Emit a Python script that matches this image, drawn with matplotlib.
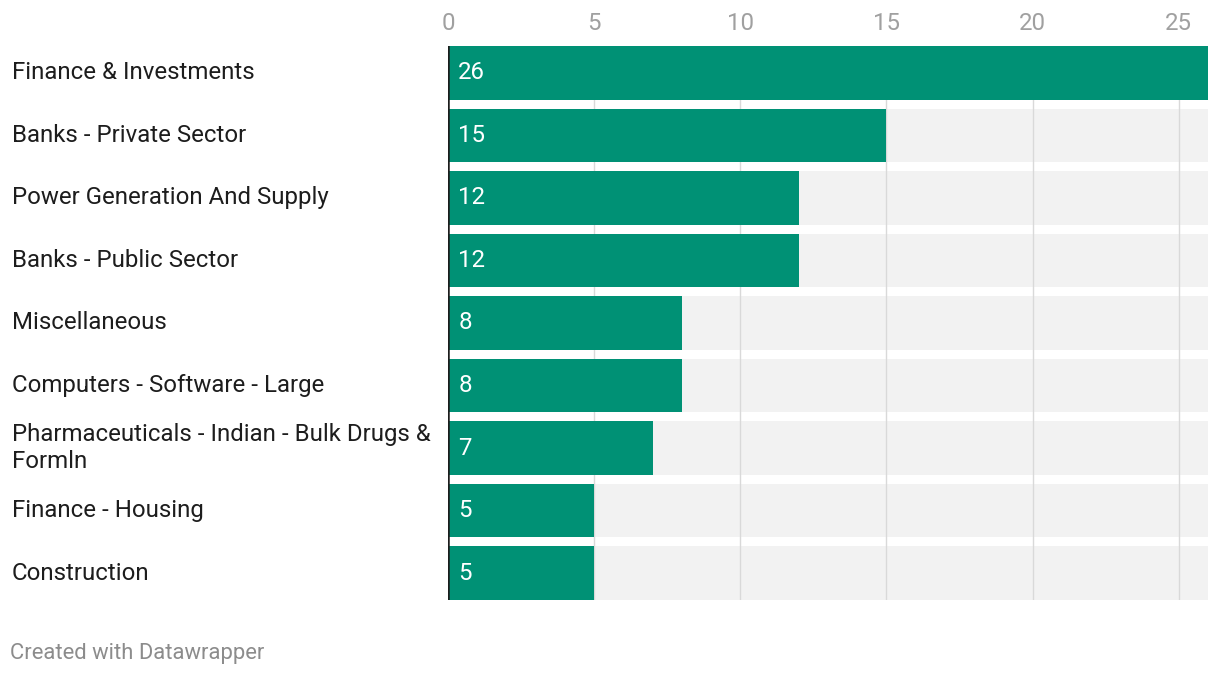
import numpy as np
import matplotlib
matplotlib.use('Agg')
import matplotlib.pyplot as plt

plt.rcParams['font.family'] = ['Roboto', 'DejaVu Sans']

categories = ["Finance & Investments", "Banks - Private Sector",
              "Power Generation And Supply", "Banks - Public Sector",
              "Miscellaneous", "Computers - Software - Large",
              "Pharmaceuticals - Indian - Bulk Drugs &\nFormln",
              "Finance - Housing", "Construction"]
values = [26, 15, 12, 12, 8, 8, 7, 5, 5]
ticks = [0, 5, 10, 15, 20, 25]
xmax = 26

green = '#009175'
bg = '#f2f2f2'
fs = 17.3

fig = plt.figure(figsize=(12.2, 6.76), dpi=100)
ax = fig.add_axes([0.3672, 0.1124, 0.623, 0.8196])

y = np.arange(len(categories))
h = 0.86
ax.barh(y, [xmax] * len(y), height=h, color=bg, zorder=1)
for t in ticks[1:]:
    ax.axvline(t, color='#d9d9d9', lw=1, zorder=2)
ax.barh(y, values, height=h, color=green, zorder=3)

for yi, v in zip(y, values):
    ax.text(0.35, yi, str(v), color='white', fontsize=fs, va='center', ha='left', zorder=4)

# labels sit in the left margin, 12px from the figure edge
lab_x = -0.3672 / 0.623 * xmax + 12 / 1220 / 0.623 * xmax
for yi, c in zip(y, categories):
    ax.text(lab_x, yi, c, fontsize=fs, color='#1d1d1d',
            va='center', ha='left', linespacing=1.25)

ax.set_xlim(0, xmax)
ax.set_ylim(len(y) - 1 + h / 2, -h / 2)
ax.axvline(0, color='#1d1d1d', lw=1.8, zorder=5)

ax.xaxis.tick_top()
ax.set_xticks(ticks)
ax.set_xticklabels([str(t) for t in ticks], fontsize=fs, color='#a0a0a0')
ax.tick_params(axis='x', length=0, pad=8)
ax.set_yticks([])
for s in ax.spines.values():
    s.set_visible(False)

fig.text(10 / 1220, 1 - 653 / 676, "Created with Datawrapper", fontsize=15.8,
         color='#8c8c8c', va='center', ha='left')

fig.savefig('out.png', dpi=100)
